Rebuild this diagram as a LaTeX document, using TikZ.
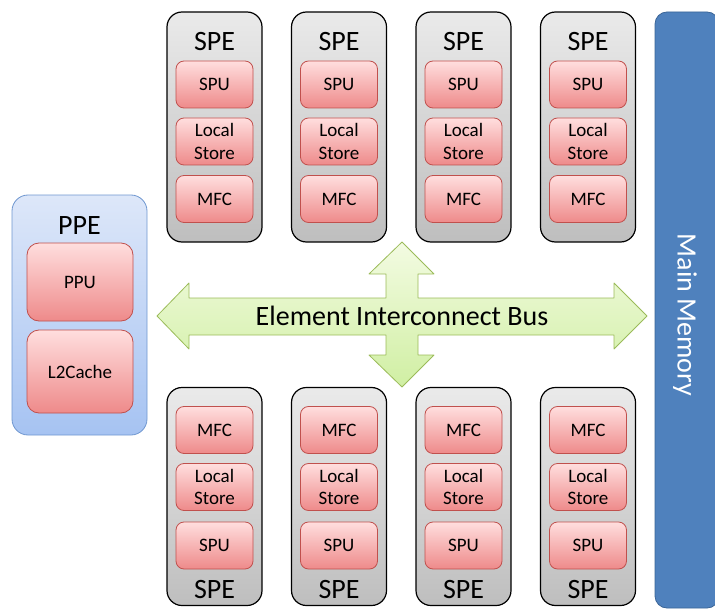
\documentclass[tikz,border=0pt]{standalone}
\usepackage{fontspec}
\setmainfont{Carlito}
\usepackage{tikz}
\usetikzlibrary{positioning}
\definecolor{spetop}{RGB}{234,234,234}
\definecolor{spebot}{RGB}{190,190,190}
\definecolor{unittop}{RGB}{255,222,222}
\definecolor{unitbot}{RGB}{238,138,138}
\definecolor{unitline}{RGB}{192,80,77}
\definecolor{ppetop}{RGB}{221,231,249}
\definecolor{ppebot}{RGB}{166,195,242}
\definecolor{ppeline}{RGB}{111,151,208}
\definecolor{memfill}{RGB}{79,129,189}
\definecolor{memline}{RGB}{59,101,151}
\definecolor{bustop}{RGB}{243,251,226}
\definecolor{busbot}{RGB}{208,239,163}
\definecolor{busline}{RGB}{155,187,89}

\begin{document}
\begin{tikzpicture}[x=1pt,y=-1pt,line join=round,
  spebox/.style={draw=black,line width=1.2pt,rounded corners=15pt,top color=spetop,bottom color=spebot,minimum width=95pt},
  unit/.style={draw=unitline,thick,rounded corners=8pt,top color=unittop,bottom color=unitbot,minimum width=77pt,minimum height=47pt,inner sep=0pt,align=center,font=\fontsize{19}{22.5}\selectfont},
  biglabel/.style={inner sep=0pt,font=\fontsize{28}{30}\selectfont}]
  \useasboundingbox (0,0) rectangle (715,615);
  % main memory
  \node[draw=memline,thick,fill=memfill,rounded corners=12pt,minimum width=64pt,minimum height=596pt] (mem) at (687,310) {};
  \node[biglabel,text=white,rotate=-90] (memlabel) at (685,315) {Main Memory};
  % PPE
  \node[draw=ppeline,thick,rounded corners=16pt,top color=ppetop,bottom color=ppebot,minimum width=135pt,minimum height=240pt] (ppe) at (79.5,315) {};
  \node[biglabel] (ppelabel) at (79.5,226) {PPE};
  \node[unit,minimum width=106pt,minimum height=78pt,rounded corners=12pt] (ppu) at (80,282) {PPU};
  \node[unit,minimum width=106pt,minimum height=83pt,rounded corners=12pt] (l2) at (80,371.5) {L2Cache};
  % SPEs above and below the bus
  \foreach \i/\x in {1/214.5,2/339,3/463.5,4/588}{
    \node[spebox,minimum height=230pt] (spet\i) at (\x,127) {};
    \node[biglabel] (spetlabel\i) at (\x,42) {SPE};
    \node[unit] (spetspu\i) at (\x,84.5) {SPU};
    \node[unit] (spetls\i) at (\x,141.5) {Local\\Store};
    \node[unit] (spetmfc\i) at (\x,199) {MFC};
    \node[spebox,minimum height=218pt] (speb\i) at (\x,496.5) {};
    \node[unit] (spebmfc\i) at (\x,430) {MFC};
    \node[unit] (spebls\i) at (\x,487) {Local\\Store};
    \node[unit] (spebspu\i) at (\x,545.5) {SPU};
    \node[biglabel] (speblabel\i) at (\x,590) {SPE};
  }
  % element interconnect bus
  \path[draw=busline,thick,top color=bustop,bottom color=busbot]
    (157,316)--(189,283)--(189,298)--(386,298)--(386,274)--(369,274)--(402,242)--(434,274)--(418,274)--(418,298)
    --(614,298)--(614,283)--(647,316)--(614,349)--(614,335)--(418,335)--(418,355)--(434,355)--(402,387)--(369,355)
    --(386,355)--(386,335)--(189,335)--(189,349)--cycle;
  \node[biglabel] (eib) at (402,316) {Element Interconnect Bus};
\end{tikzpicture}
\end{document}
